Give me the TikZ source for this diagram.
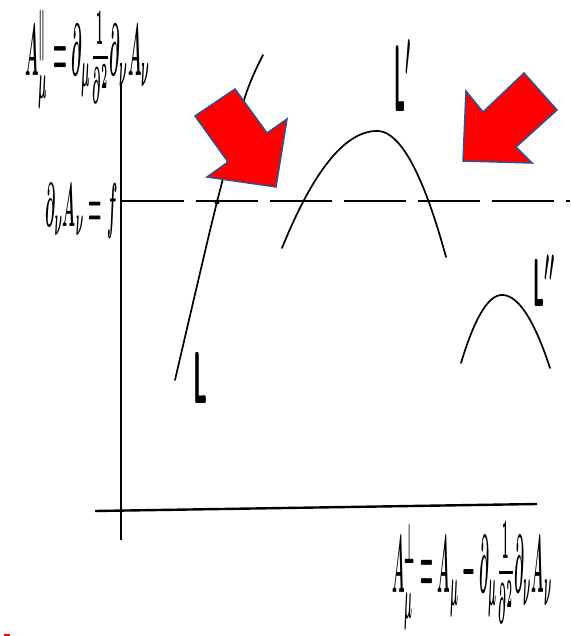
\documentclass[tikz,border=0pt]{standalone}
\usepackage{amsmath,graphicx}
\usetikzlibrary{positioning}
\definecolor{cred}{HTML}{FF0000}
\definecolor{cedge}{HTML}{2F528F}
\newcommand{\handfit}[3]{\resizebox*{#1}{#2}{#3}}
\tikzset{
  every picture/.style={line join=round},
  axis/.style={black, line width=1.2pt},
  curve/.style={black, line width=1.7pt, line cap=round},
  gauge/.style={black, line width=1.8pt, dash pattern=on 62pt off 12pt},
  pointer/.style={fill=cred, draw=cedge, line width=1.5pt, line join=miter},
  hand/.style={inner sep=0pt, anchor=north west, font=\boldmath},
}

\begin{document}
\begin{tikzpicture}[x=1pt, y=-1pt]
  \useasboundingbox (0,0) rectangle (570,636);
  % axes
  \coordinate (vtop) at (121,83);
  \coordinate (vbot) at (121,540);
  \coordinate (hleft) at (95,511);
  \coordinate (hright) at (537,504);
  \draw[axis] (vtop) -- (vbot);
  \draw[axis, line width=2.4pt] (hleft) -- (hright);
  % gauge condition line
  \coordinate (fleft) at (122,201);
  \coordinate (fright) at (570,201);
  \draw[gauge] (fleft) -- (fright);
  % the orbits L, L', L''
  \draw[curve] plot[smooth] coordinates {(263,55) (245,97) (217,202) (196,290) (175,380)};
  \draw[curve] plot[domain=282:377, samples=40] (\x, {131+117*((377-\x)/95)^2});
  \draw[curve] plot[domain=377:446, samples=40] (\x, {131+126*((\x-377)/69)^2});
  \draw[curve] plot[domain=461:502, samples=30] (\x, {295+68*((502-\x)/41)^2});
  \draw[curve] plot[domain=502:550, samples=30] (\x, {295+73*((\x-502)/48)^2});
  \fill (217,202) circle (2.5pt);
  % labels
  \node[hand] (top) at (25,10) {\handfit{125pt}{98pt}{$A^{\parallel}_{\mu}=\partial_\mu\frac{1}{\partial^2}\partial_\nu A_\nu$}};
  \node[hand] (cond) at (45,183) {\handfit{72pt}{55pt}{$\partial_\nu A_\nu=f$}};
  \node[hand] (bottom) at (392,521) {\handfit{160pt}{108pt}{$A^{\perp}_{\mu}=A_\mu-\partial_\mu\frac{1}{\partial^2}\partial_\nu A_\nu$}};
  \node[hand] (labL) at (193,352) {\handfit{14pt}{51pt}{\textsf{\bfseries L}}};
  \node[hand] (labLp) at (394,40) {\handfit{17pt}{71pt}{\textsf{\bfseries L}$'$}};
  \node[hand] (labLpp) at (533,255) {\handfit{22pt}{51pt}{\textsf{\bfseries L}$''$}};
  % red arrows
  \filldraw[pointer] (195,116) -- (235,89) -- (267,133) -- (287,119) -- (276,187) -- (207,177) -- (228,162) -- cycle;
  \filldraw[pointer] (524,73) -- (557,110) -- (516,147) -- (532,163) -- (463,161) -- (466,91) -- (483,112) -- cycle;
  \fill[cred] (4,634) rectangle (10,636);
\end{tikzpicture}
\end{document}
